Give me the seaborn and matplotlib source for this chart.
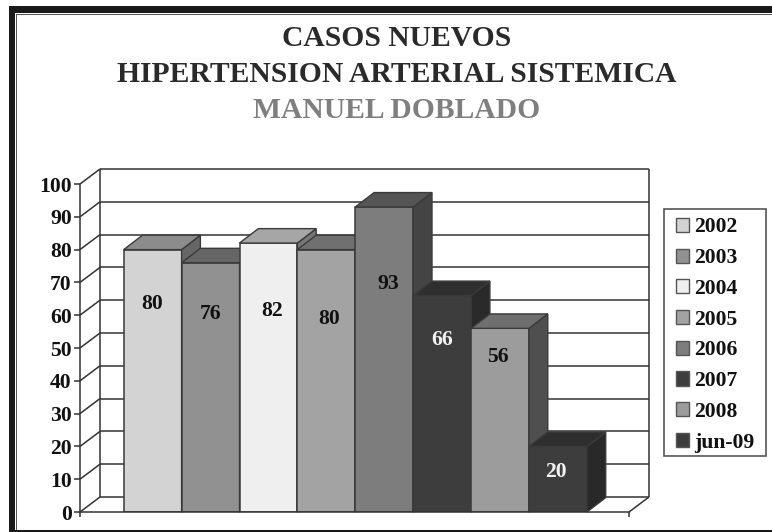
import matplotlib
matplotlib.use("Agg")
import matplotlib.pyplot as plt
from matplotlib.patches import Polygon, Rectangle
import pandas as pd
import seaborn as sns

years = ["2002", "2003", "2004", "2005", "2006", "2007", "2008", "jun-09"]
cases = [80, 76, 82, 80, 93, 66, 56, 20]
front_colors = ["#d3d3d3", "#919191", "#efefef", "#a3a3a3", "#7d7d7d", "#3d3d3d", "#9c9c9c", "#3d3d3d"]
top_colors = ["#8c8c8c", "#666666", "#a6a6a6", "#707070", "#555555", "#2f2f2f", "#6f6f6f", "#2e2e2e"]
side_colors = ["#666666", "#4c4c4c", "#777777", "#555555", "#444444", "#2a2a2a", "#4f4f4f", "#292929"]
label_heights = [63.4, 60.4, 61.4, 58.9, 69.6, 52.4, 47.4, 12.2]
label_shift_px = [-1, 0, 4, 3, 4, 0, -2, -2]
label_colors = ["#111111"] * 5 + ["#f2f2f2", "#111111", "#f2f2f2"]
yticks = list(range(0, 101, 10))

W, H = 772, 532
SERIF = "Liberation Serif"
INK = "#111111"

sns.set_theme(style="white", rc={"font.family": SERIF})
fig = plt.figure(figsize=(W / 100, H / 100), dpi=100, facecolor="white")

# plot box in pixels
L, R, T, B = 80, 629, 184, 512
ax = fig.add_axes([L / W, 1 - B / H, (R - L) / W, (B - T) / H])
bar_px = 57.9
first_left = 123.7
ax.patch.set_alpha(0)

df = pd.DataFrame({"year": years, "cases": cases})
sns.barplot(data=df, x="year", y="cases", hue="year", palette=front_colors, width=1.0,
            dodge=False, legend=False, ax=ax, zorder=3, edgecolor="#3a3a3a", linewidth=1.1)
ax.set_xlim(-0.5 - (first_left - L) / bar_px, -0.5 + (R - first_left) / bar_px)
ax.set_ylim(0, 100)
ax.set_xlabel("")
ax.set_ylabel("")

# depth of the fake 3D, in data units
wall_dx = 20 / bar_px
wall_dy = 15 / (B - T) * 100
bar_dx = 18.8 / bar_px
bar_dy = 14.4 / (B - T) * 100
x0, x1 = ax.get_xlim()

line = dict(color="#333333", lw=1.1, clip_on=False, solid_capstyle="butt")
for v in yticks:
    ax.plot([x0, x0 + wall_dx], [v, v + wall_dy], zorder=1, **line)
    ax.plot([x0 + wall_dx, x1 + wall_dx], [v + wall_dy, v + wall_dy], zorder=1, **line)
ax.plot([x0 + wall_dx, x0 + wall_dx], [wall_dy, 100 + wall_dy], zorder=1, **line)
ax.plot([x1 + wall_dx, x1 + wall_dx], [wall_dy, 100 + wall_dy], zorder=1, **line)
ax.plot([x1, x1 + wall_dx], [0, wall_dy], zorder=1, **line)
ax.plot([x1, x1], [0, -1.5], zorder=1, **line)
ax.plot([x0, x0], [0, -1.5], zorder=1, **line)

edge = "#3a3a3a"
for i, (rect, v) in enumerate(zip(ax.patches, cases)):
    xl, xr = rect.get_x(), rect.get_x() + rect.get_width()
    z = 3 + i * 0.1
    rect.set_zorder(z)
    top = Polygon([(xl, v), (xr, v), (xr + bar_dx, v + bar_dy), (xl + bar_dx, v + bar_dy)],
                  closed=True, fc=top_colors[i], ec=edge, lw=1.0, zorder=z, clip_on=False)
    side = Polygon([(xr, 0), (xr + bar_dx, bar_dy), (xr + bar_dx, v + bar_dy), (xr, v)],
                   closed=True, fc=side_colors[i], ec=edge, lw=1.0, zorder=z, clip_on=False)
    ax.add_patch(side)
    ax.add_patch(top)
    ax.text(i + label_shift_px[i] / bar_px, label_heights[i], str(v), ha="center", va="center",
            fontsize=15.6, fontweight="bold", family=SERIF, color=label_colors[i], zorder=9)

sns.despine(ax=ax, top=True, right=True)
for s in ("left", "bottom"):
    ax.spines[s].set_color("#333333")
    ax.spines[s].set_linewidth(1.1)
    ax.spines[s].set_zorder(8)
ax.set_xticks([])
ax.set_yticks(yticks)
ax.tick_params(axis="y", length=4, width=1.1, color="#333333", pad=2, left=True)
for t in ax.get_yticklabels():
    t.set_fontsize(15.6)
    t.set_fontweight("bold")
    t.set_family(SERIF)
    t.set_color(INK)

# legend
fig.add_artist(Rectangle((663.7 / W, 1 - 455.7 / H), 101.8 / W, 246.7 / H, transform=fig.transFigure,
                         fc="white", ec="#555555", lw=1.2))
handles = [Rectangle((0, 0), 1, 1, fc=c, ec="#555555", lw=1.0) for c in front_colors]
leg = fig.legend(handles, years, loc="upper left",
                 bbox_to_anchor=(675.5 / W, 1 - 217.5 / H), bbox_transform=fig.transFigure,
                 prop={"family": SERIF, "weight": "bold", "size": 15.6},
                 frameon=False, handlelength=0.62, handleheight=0.62, handletextpad=0.26,
                 labelspacing=0.495, borderpad=0, borderaxespad=0)
for t in leg.get_texts():
    t.set_color(INK)

# titles
title_kw = dict(ha="center", va="center", family=SERIF, fontweight="bold", fontsize=21.3)
fig.text(397 / W, 1 - 38 / H, "CASOS NUEVOS", color="#2a2a2a", **title_kw)
fig.text(397 / W, 1 - 74 / H, "HIPERTENSION ARTERIAL SISTEMICA", color="#2a2a2a", **title_kw)
fig.text(397 / W, 1 - 111 / H, "MANUEL DOBLADO", color="#7f7f7f", **title_kw)

# page frame, running off the right and bottom of the picture
def px_rect(x, y, w, h, color):
    fig.add_artist(Rectangle((x / W, 1 - (y + h) / H), w / W, h / H, transform=fig.transFigure,
                             fc=color, ec="none", lw=0))

px_rect(9, 6, W - 9, 6.5, "#1a1a1a")
px_rect(9, 6, 6, H - 6, "#1a1a1a")
px_rect(16, 13.5, W - 16, 1.2, "#555555")
px_rect(16, 13.5, 1.2, H - 13.5, "#555555")
px_rect(9, 530, W - 9, 2, "#1a1a1a")

fig.savefig("out.png", dpi=100)
